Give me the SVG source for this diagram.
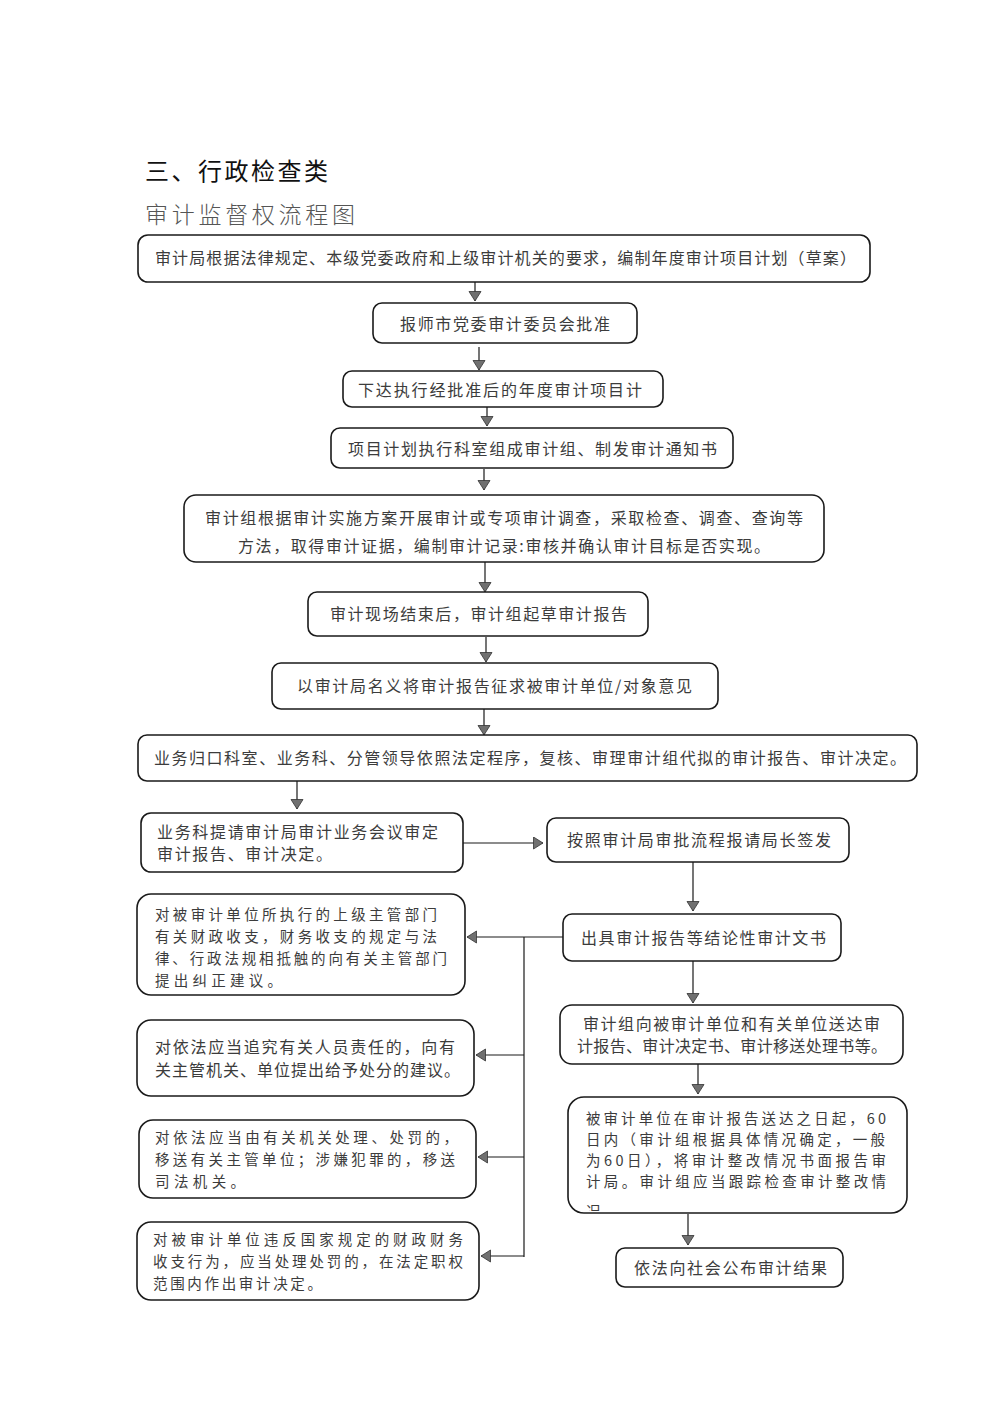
<svg xmlns="http://www.w3.org/2000/svg" width="1000" height="1414" viewBox="0 0 1000 1414">
<style>
.bx{fill:#fff;stroke:#1a1a1a;stroke-width:1.6}
.t{font-family:"Noto Sans CJK SC","Noto Sans",sans-serif;font-size:16px;fill:#3c3c3c}
.m{font-size:14.5px}
.ln{stroke:#1a1a1a;stroke-width:1.2;fill:none}
.h1{font-family:"Noto Sans CJK SC",sans-serif;font-size:24px;fill:#111}
.h2{font-family:"Noto Sans CJK SC",sans-serif;font-size:23px;fill:#555;font-weight:300}
</style>
<defs>
<marker id="ah" markerUnits="userSpaceOnUse" markerWidth="12" markerHeight="14" refX="10" refY="6.5" orient="auto" viewBox="0 0 12 14">
<path d="M0.5,0.5 L10,6.5 L0.5,12.5 z" fill="#707070" stroke="#333" stroke-width="0.8"/>
</marker>
<clipPath id="c13"><rect x="568" y="1097" width="339" height="114" rx="14"/></clipPath>
</defs>
<rect width="1000" height="1414" fill="#fff"/>
<text class="h1" x="145" y="180" textLength="183">三、行政检查类</text>
<text class="h2" x="145" y="223" textLength="210">审计监督权流程图</text>

<g id="connectors">
<line class="ln" x1="475" y1="282" x2="475" y2="301" marker-end="url(#ah)"/>
<line class="ln" x1="479" y1="347" x2="479" y2="370" marker-end="url(#ah)"/>
<line class="ln" x1="487" y1="407" x2="487" y2="426" marker-end="url(#ah)"/>
<line class="ln" x1="484" y1="469" x2="484" y2="490" marker-end="url(#ah)"/>
<line class="ln" x1="485" y1="562" x2="485" y2="592" marker-end="url(#ah)"/>
<line class="ln" x1="486" y1="637" x2="486" y2="662" marker-end="url(#ah)"/>
<line class="ln" x1="484" y1="709" x2="484" y2="735" marker-end="url(#ah)"/>
<line class="ln" x1="297" y1="781" x2="297" y2="809" marker-end="url(#ah)"/>
<line class="ln" x1="463" y1="843" x2="543" y2="843" marker-end="url(#ah)"/>
<line class="ln" x1="693" y1="862" x2="693" y2="911" marker-end="url(#ah)"/>
<line class="ln" x1="693" y1="961" x2="693" y2="1003" marker-end="url(#ah)"/>
<line class="ln" x1="698" y1="1064" x2="698" y2="1094" marker-end="url(#ah)"/>
<line class="ln" x1="688" y1="1214" x2="688" y2="1245" marker-end="url(#ah)"/>
<line class="ln" x1="563" y1="937" x2="467" y2="937" marker-end="url(#ah)"/>
<line class="ln" x1="524" y1="937" x2="524" y2="1257"/>
<line class="ln" x1="524" y1="1055" x2="476" y2="1055" marker-end="url(#ah)"/>
<line class="ln" x1="524" y1="1157" x2="478" y2="1157" marker-end="url(#ah)"/>
<line class="ln" x1="524" y1="1256" x2="481" y2="1256" marker-end="url(#ah)"/>
</g>

<g id="n1"><rect class="bx" x="138" y="235" width="732" height="47" rx="10"/>
<text class="t" x="155" y="264" textLength="701">审计局根据法律规定、本级党委政府和上级审计机关的要求，编制年度审计项目计划（草案）</text></g>
<g id="n2"><rect class="bx" x="373" y="303" width="264" height="40" rx="9"/>
<text class="t" x="400" y="330" textLength="210">报师市党委审计委员会批准</text></g>
<g id="n3"><rect class="bx" x="343" y="371" width="320" height="36" rx="9"/>
<text class="t" x="358" y="396" textLength="284">下达执行经批准后的年度审计项目计</text></g>
<g id="n4"><rect class="bx" x="331" y="428" width="402" height="40" rx="9"/>
<text class="t" x="348" y="455" textLength="369">项目计划执行科室组成审计组、制发审计通知书</text></g>
<g id="n5"><rect class="bx" x="184" y="495" width="640" height="67" rx="12"/>
<text class="t" x="205" y="524" textLength="598">审计组根据审计实施方案开展审计或专项审计调查，采取检查、调查、查询等</text>
<text class="t" x="238" y="552" textLength="532">方法，取得审计证据，编制审计记录:审核并确认审计目标是否实现。</text></g>
<g id="n6"><rect class="bx" x="308" y="592" width="340" height="44" rx="9"/>
<text class="t" x="330" y="620" textLength="297">审计现场结束后，审计组起草审计报告</text></g>
<g id="n7"><rect class="bx" x="272" y="663" width="446" height="46" rx="9"/>
<text class="t" x="297" y="692" textLength="395">以审计局名义将审计报告征求被审计单位/对象意见</text></g>
<g id="n8"><rect class="bx" x="138" y="735" width="779" height="46" rx="9"/>
<text class="t" x="154" y="764" textLength="752">业务归口科室、业务科、分管领导依照法定程序，复核、审理审计组代拟的审计报告、审计决定。</text></g>
<g id="n9"><rect class="bx" x="141" y="813" width="322" height="59" rx="10"/>
<text class="t" x="157" y="838" textLength="281">业务科提请审计局审计业务会议审定</text>
<text class="t" x="157" y="860" textLength="175">审计报告、审计决定。</text></g>
<g id="n10"><rect class="bx" x="547" y="818" width="302" height="44" rx="9"/>
<text class="t" x="567" y="846" textLength="264">按照审计局审批流程报请局长签发</text></g>
<g id="n11"><rect class="bx" x="563" y="914" width="278" height="47" rx="9"/>
<text class="t" x="581" y="944" textLength="245">出具审计报告等结论性审计文书</text></g>
<g id="nA"><rect class="bx" x="137" y="894" width="328" height="101" rx="14"/>
<text class="t m" x="155" y="920" textLength="282">对被审计单位所执行的上级主管部门</text>
<text class="t m" x="155" y="942" textLength="282">有关财政收支，财务收支的规定与法</text>
<text class="t m" x="155" y="964" textLength="292">律、行政法规相抵触的向有关主管部门</text>
<text class="t m" x="155" y="986" textLength="127">提出纠正建议。</text></g>
<g id="nB"><rect class="bx" x="137" y="1020" width="337" height="76" rx="14"/>
<text class="t" x="155" y="1053" textLength="300">对依法应当追究有关人员责任的，向有</text>
<text class="t" x="155" y="1076" textLength="305">关主管机关、单位提出给予处分的建议。</text></g>
<g id="nC"><rect class="bx" x="139" y="1120" width="337" height="78" rx="14"/>
<text class="t m" x="155" y="1143" textLength="303">对依法应当由有关机关处理、处罚的，</text>
<text class="t m" x="155" y="1165" textLength="300">移送有关主管单位；涉嫌犯罪的，移送</text>
<text class="t m" x="155" y="1187" textLength="90">司法机关。</text></g>
<g id="nD"><rect class="bx" x="137" y="1222" width="342" height="78" rx="14"/>
<text class="t m" x="153" y="1245" textLength="310">对被审计单位违反国家规定的财政财务</text>
<text class="t m" x="153" y="1267" textLength="310">收支行为，应当处理处罚的，在法定职权</text>
<text class="t m" x="153" y="1289" textLength="169">范围内作出审计决定。</text></g>
<g id="n12"><rect class="bx" x="560" y="1005" width="343" height="59" rx="12"/>
<text class="t" x="583" y="1030" textLength="297">审计组向被审计单位和有关单位送达审</text>
<text class="t" x="577" y="1052" textLength="310">计报告、审计决定书、审计移送处理书等。</text></g>
<g id="n13"><rect class="bx" x="568" y="1097" width="339" height="116" rx="16"/>
<g clip-path="url(#c13)">
<text class="t m" x="586" y="1124" textLength="300">被审计单位在审计报告送达之日起，60</text>
<text class="t m" x="586" y="1145" textLength="299">日内（审计组根据具体情况确定，一般</text>
<text class="t m" x="586" y="1166" textLength="300">为60日），将审计整改情况书面报告审</text>
<text class="t m" x="586" y="1187" textLength="300">计局。审计组应当跟踪检查审计整改情</text>
<text class="t m" x="586" y="1217">况</text>
</g></g>
<g id="n14"><rect class="bx" x="616" y="1248" width="227" height="39" rx="9"/>
<text class="t" x="634" y="1274" textLength="193">依法向社会公布审计结果</text></g>
</svg>
